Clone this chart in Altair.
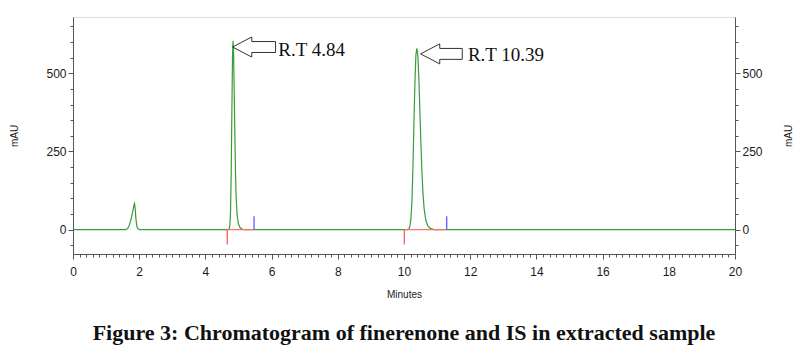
import altair as alt
import pandas as pd

# ---- Data ----
time_min = [0.0, 1.60, 1.65, 1.70, 1.75, 1.80, 1.84, 1.86, 1.88, 1.90, 1.93, 1.97, 2.02,
            4.70, 4.72, 4.74, 4.76, 4.78, 4.80, 4.82, 4.835, 4.85, 4.87, 4.89, 4.91, 4.93,
            4.96, 5.00, 5.05, 5.12, 5.20,
            10.10, 10.15, 10.18, 10.21, 10.24, 10.27, 10.30, 10.33, 10.36, 10.39, 10.42,
            10.45, 10.48, 10.51, 10.54, 10.57, 10.61, 10.66, 10.72, 10.80, 10.90, 20.0]
signal_mau = [0, 0, 3, 14, 32, 55, 78, 83, 65, 35, 10, 2, 0,
              0, 3, 15, 60, 180, 380, 560, 603, 570, 440, 300, 180, 100,
              45, 18, 6, 1, 0,
              0, 3, 12, 35, 90, 200, 340, 470, 560, 580, 555,
              480, 380, 280, 190, 120, 65, 30, 12, 4, 0, 0]

# integration baseline markers (peak start / end)
peak_start = [4.66, 10.01]
peak_end = [5.47, 11.29]
start_drop = [-48, -48]
end_rise = [43, 43]

# retention-time annotations
rt_labels = ["R.T 4.84", "R.T 10.39"]
arrow_tip_t = [4.82, 10.50]
arrow_tip_y = [584, 562]
arrow_len = [1.30, 1.26]
label_t = [6.20, 11.93]
label_y = [574, 558]
head_len = 0.58
head_half = 32
shaft_half = 17.5

x_major = list(range(0, 21, 2))
x_minor = [round(i * 0.2, 1) for i in range(0, 101)]
y_major = [0, 250, 500]
y_minor = list(range(-50, 651, 50))

X_DOMAIN = [0, 20]
Y_DOMAIN = [-78, 680]

GREEN = "#3a9a3a"
RED = "#ff5a5a"
BLUE = "#5a5aff"
AXC = "#555555"
LAB = "#1a1a1a"
SANS = "Liberation Sans"

trace = pd.DataFrame({"t": time_min, "v": signal_mau})

# arrow outlines
arrow_rows = []
for k in range(len(rt_labels)):
    tx, ty, L = arrow_tip_t[k], arrow_tip_y[k], arrow_len[k]
    pts = [(0, 0), (head_len, head_half), (head_len, shaft_half), (L, shaft_half),
           (L, -shaft_half), (head_len, -shaft_half), (head_len, -head_half), (0, 0)]
    for i, (dx, dy) in enumerate(pts):
        arrow_rows.append({"id": k, "o": i, "t": tx + dx, "v": ty + dy})
arrows_df = pd.DataFrame(arrow_rows)

labels_df = pd.DataFrame({"t": label_t, "v": label_y, "txt": rt_labels})

horiz_df = pd.DataFrame({"t": peak_start, "t2": peak_end, "v": [0] * len(peak_start)})
vert_rows = []
for k in range(len(peak_start)):
    vert_rows.append({"t": peak_start[k], "v": 0, "v2": start_drop[k], "c": "red"})
    vert_rows.append({"t": peak_end[k], "v": 0, "v2": end_rise[k], "c": "blue"})
vert_df = pd.DataFrame(vert_rows)

xs = alt.Scale(domain=X_DOMAIN, nice=False, zero=False)
ys = alt.Scale(domain=Y_DOMAIN, nice=False, zero=False)

common_axis = dict(domainColor=AXC, tickColor=AXC, labelColor=LAB, labelFont=SANS,
                   titleFont=SANS, titleColor=LAB, grid=False)

x_major_axis = alt.Axis(values=x_major, orient="bottom", title="Minutes", tickSize=5,
                        labelPadding=7, labelFontSize=12, labelFlush=False,
                        titleFontSize=10, titleFontWeight="normal", titlePadding=12,
                        **common_axis)
x_minor_axis = alt.Axis(values=x_minor, orient="bottom", title=None, labels=False,
                        tickSize=3, domain=False, **common_axis)
y_left_major = alt.Axis(values=y_major, orient="left", title="mAU", tickSize=5,
                        labelPadding=2, labelFontSize=12, titleFontSize=10,
                        titleFontWeight="normal", titlePadding=26, **common_axis)
y_left_minor = alt.Axis(values=y_minor, orient="left", title=None, labels=False,
                        tickSize=3, domain=False, **common_axis)
y_right_major = alt.Axis(values=y_major, orient="right", title="mAU", tickSize=5,
                         labelPadding=2, labelFontSize=12, titleFontSize=10,
                         titleFontWeight="normal", titlePadding=31, titleAngle=270,
                         **common_axis)
y_right_minor = alt.Axis(values=y_minor, orient="right", title=None, labels=False,
                         tickSize=3, domain=False, **common_axis)

line = alt.Chart(trace).mark_line(color=GREEN, strokeWidth=1.2).encode(
    x=alt.X("t:Q", scale=xs, axis=x_major_axis),
    y=alt.Y("v:Q", scale=ys, axis=y_left_major),
)
minor_left = alt.Chart(trace).mark_line(opacity=0).encode(
    x=alt.X("t:Q", scale=xs, axis=x_minor_axis),
    y=alt.Y("v:Q", scale=ys, axis=y_left_minor),
)
right_major = alt.Chart(trace).mark_line(opacity=0).encode(
    x=alt.X("t:Q", scale=xs, axis=None),
    y=alt.Y("v:Q", scale=ys, axis=y_right_major),
)
right_minor = alt.Chart(trace).mark_line(opacity=0).encode(
    x=alt.X("t:Q", scale=xs, axis=None),
    y=alt.Y("v:Q", scale=ys, axis=y_right_minor),
)
horiz = alt.Chart(horiz_df).mark_rule(strokeWidth=1.3, color="#ff7070").encode(
    x=alt.X("t:Q", scale=xs, axis=None),
    x2="t2:Q",
    y=alt.Y("v:Q", scale=ys, axis=None),
)
vert = alt.Chart(vert_df).mark_rule(strokeWidth=1.3).encode(
    x=alt.X("t:Q", scale=xs, axis=None),
    y=alt.Y("v:Q", scale=ys, axis=None),
    y2="v2:Q",
    color=alt.Color("c:N", scale=alt.Scale(domain=["red", "blue"], range=[RED, BLUE]),
                    legend=None),
)
arrows = alt.Chart(arrows_df).mark_line(color="#333333", strokeWidth=1).encode(
    x=alt.X("t:Q", scale=xs, axis=None),
    y=alt.Y("v:Q", scale=ys, axis=None),
    detail="id:N",
    order="o:Q",
)
labels = alt.Chart(labels_df).mark_text(
    align="left", baseline="middle", font="Liberation Serif", fontSize=19, color="#111111"
).encode(
    x=alt.X("t:Q", scale=xs, axis=None),
    y=alt.Y("v:Q", scale=ys, axis=None),
    text="txt:N",
)

chart = alt.layer(
    line, minor_left, right_major, right_minor, horiz, vert, arrows, labels
).resolve_axis(x="independent", y="independent").properties(
    width=662,
    height=237,
    autosize=alt.AutoSizeParams(type="none"),
    padding={"left": 65, "top": 9, "right": 64, "bottom": 97},
    title=alt.TitleParams(
        "Figure 3: Chromatogram of finerenone and IS in extracted sample",
        orient="bottom", anchor="middle", font="Liberation Serif", fontSize=22,
        fontWeight="bold", color="#111111", offset=24,
    ),
).configure_view(stroke=AXC, strokeWidth=1).configure(background="white")

chart.save("out.html", embed_options={"renderer": "svg", "actions": False})
